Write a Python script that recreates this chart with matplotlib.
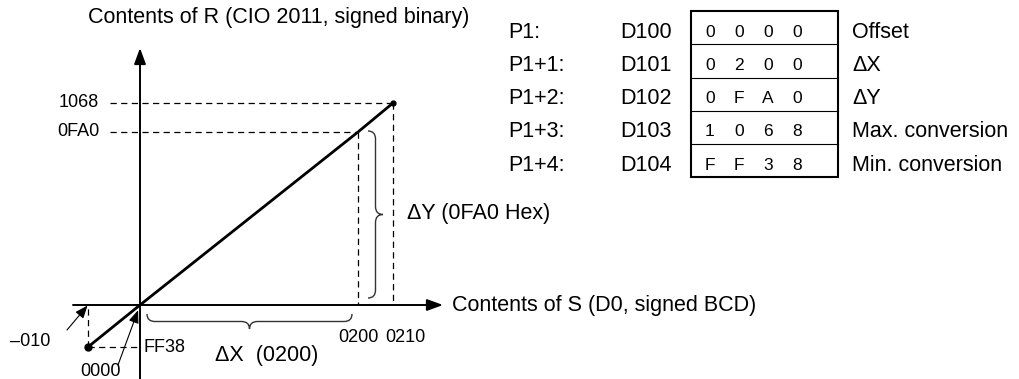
import matplotlib
matplotlib.use('Agg')
import matplotlib.pyplot as plt
import numpy as np
from matplotlib.path import Path
from matplotlib.patches import PathPatch, Rectangle

plt.rcParams['font.family'] = ['Liberation Sans', 'DejaVu Sans']

# conversion points: S read as signed BCD, R as signed binary (decimal values)
s_vals = [-10, 0, 200, 210]
r_vals = [-200, 0, 4000, 4200]
s_labels = ['\u2013010', '0000', '0200', '0210']
r_labels = ['FF38', '0000', '0FA0', '1068']

# parameter area P1 .. P1+4
params = ['P1:', 'P1+1:', 'P1+2:', 'P1+3:', 'P1+4:']
words = ['D100', 'D101', 'D102', 'D103', 'D104']
contents = ['0000', '0200', '0FA0', '1068', 'FF38']
meaning = ['Offset', '\u0394X', '\u0394Y', 'Max. conversion', 'Min. conversion']

# the diagram is not to scale: pixel spacing used for the values above
x_draw = [-52, 0, 218, 253]
y_draw = [-42, 0, 173, 202]


def piecewise(src, dst):
    src = np.asarray(src, float)
    dst = np.asarray(dst, float)

    def f(v):
        v = np.asarray(v, float)
        mid = np.interp(v, src, dst)
        lo = dst[0] + (v - src[0]) * (dst[1] - dst[0]) / (src[1] - src[0])
        hi = dst[-1] + (v - src[-1]) * (dst[-1] - dst[-2]) / (src[-1] - src[-2])
        return np.where(v < src[0], lo, np.where(v > src[-1], hi, mid))
    return f


fx, ix = piecewise(s_vals, x_draw), piecewise(x_draw, s_vals)
fy, iy = piecewise(r_vals, y_draw), piecewise(y_draw, r_vals)

W, H = 1020, 379
ox, oy = 140, 305   # where the origin sits in the picture


def to_px(s, r):
    return ox + float(fx(s)), oy - float(fy(r))


fig = plt.figure(figsize=(W / 100, H / 100), dpi=100)
ax = fig.add_axes([0, 0, 1, 1])
ax.set_xscale('function', functions=(fx, ix))
ax.set_yscale('function', functions=(fy, iy))
ax.set_xlim(float(ix(-ox)), float(ix(W - ox)))
ax.set_ylim(float(iy(-(H - oy))), float(iy(oy)))
ax.axis('off')

# canvas in pixels for the frame pieces and the table
tb = fig.add_axes([0, 0, 1, 1], facecolor='none')
tb.set_xlim(0, W)
tb.set_ylim(H, 0)
tb.axis('off')

big = 15.5
small = 13
dash = dict(color='k', lw=0.9, ls=(0, (5, 3.5)))

# axes with arrow heads
arrow_kw = dict(arrowstyle='-|>,head_length=0.6,head_width=0.22', color='k',
                lw=1.4, mutation_scale=16, shrinkA=0, shrinkB=0)
tb.annotate('', xy=(443, oy), xytext=(73, oy), arrowprops=arrow_kw)
tb.annotate('', xy=(ox, 48), xytext=(ox, H), arrowprops=arrow_kw)
tb.text(88, 18, 'Contents of R (CIO 2011, signed binary)', fontsize=big,
        ha='left', va='center')
tb.text(452, oy, 'Contents of S (D0, signed BCD)', fontsize=big,
        ha='left', va='center')

# guide lines
x_left = float(ix(-30))
for s, r in zip(s_vals[2:], r_vals[2:]):
    ax.plot([x_left, s], [r, r], **dash)
    ax.plot([s, s], [r, 0], **dash)
ax.plot([s_vals[0], 0], [r_vals[0], r_vals[0]], **dash)
ax.plot([s_vals[0], s_vals[0]], [r_vals[0], 0], **dash)

# conversion line
ax.plot(s_vals, r_vals, color='k', lw=2.0, solid_capstyle='butt')
ax.plot(s_vals[0], r_vals[0], 'o', color='k', ms=5)
ax.plot(s_vals[-1], r_vals[-1], 'o', color='k', ms=3.5)

# value labels
for r, lab in zip(r_vals[2:], r_labels[2:]):
    ax.annotate(lab, xy=(0, r), xytext=(-41, 0), textcoords='offset pixels',
                ha='right', va='center', fontsize=small)
ax.annotate(r_labels[0], xy=(0, r_vals[0]), xytext=(3, 0), textcoords='offset pixels',
            ha='left', va='center', fontsize=small)
ax.annotate(s_labels[2], xy=(s_vals[2], 0), xytext=(0, -33), textcoords='offset pixels',
            ha='center', va='center', fontsize=small)
ax.annotate(s_labels[3], xy=(s_vals[3], 0), xytext=(12, -33), textcoords='offset pixels',
            ha='center', va='center', fontsize=small)

small_arrow = dict(arrowstyle='-|>,head_length=0.7,head_width=0.28', color='k',
                   lw=0.8, mutation_scale=11, shrinkA=0, shrinkB=0.5)
ax.annotate('', xy=(s_vals[0], 0), xytext=(-21, -25), textcoords='offset pixels',
            arrowprops=small_arrow)
ax.annotate(s_labels[0], xy=(s_vals[0], r_vals[0]), xytext=(-38, 5),
            textcoords='offset pixels', ha='right', va='center', fontsize=small)
ax.annotate('', xy=(0, 0), xytext=(-22, -60), textcoords='offset pixels',
            arrowprops=dict(small_arrow, shrinkB=4))
ax.annotate(s_labels[1], xy=(0, 0), xytext=(-40, -67), textcoords='offset pixels',
            ha='center', va='center', fontsize=small)


def brace(a, u0, u1, v0, h, vertical=False, r=8, **kw):
    um = (u0 + u1) / 2
    pts = [(u0, v0), (u0, v0 + h), (u0 + r, v0 + h), (um - r, v0 + h),
           (um, v0 + h), (um, v0 + 2 * h), (um, v0 + h), (um + r, v0 + h),
           (u1 - r, v0 + h), (u1, v0 + h), (u1, v0)]
    codes = [Path.MOVETO, Path.CURVE3, Path.CURVE3, Path.LINETO, Path.CURVE3,
             Path.CURVE3, Path.CURVE3, Path.CURVE3, Path.LINETO, Path.CURVE3,
             Path.CURVE3]
    if vertical:
        pts = [(v, u) for u, v in pts]
    a.add_patch(PathPatch(Path(pts, codes), fill=False, **kw))


# delta X brace under the axis, delta Y brace beside the 0200 line
x0, _ = to_px(0, 0)
x2, y2 = to_px(s_vals[2], r_vals[2])
brace(tb, x0 + 7, x2 - 6, oy + 9, 7.5, color='#333333', lw=1.0)
tb.text(215, 356, '\u0394X  (' + s_labels[2] + ')', fontsize=big, ha='left', va='center')
brace(tb, y2 - 1, oy - 7, x2 + 10, 7.5, vertical=True, color='#333333', lw=1.0)
tb.text(407, 213, '\u0394Y (' + r_labels[2] + ' Hex)', fontsize=big, ha='left', va='center')

# parameter table
top, pitch = 11, 33.25
bx0, bx1 = 691, 838
tb.add_patch(Rectangle((bx0, top), bx1 - bx0, pitch * len(contents), fill=False,
                       lw=1.5, ec='k'))
for i in range(1, len(contents)):
    tb.plot([bx0, bx1], [top + i * pitch] * 2, color='k', lw=0.8)
for i, (p, w, c, m) in enumerate(zip(params, words, contents, meaning)):
    yc = top + (i + 0.5) * pitch + 4.5
    tb.text(508, yc, p, fontsize=big, ha='left', va='center')
    tb.text(620, yc, w, fontsize=big, ha='left', va='center')
    tb.text(852, yc, m, fontsize=big, ha='left', va='center')
    for k, ch in enumerate(c):
        tb.text(710 + 29 * k, yc, ch, fontsize=12.5, ha='center', va='center')

fig.savefig('out.png', dpi=100)
